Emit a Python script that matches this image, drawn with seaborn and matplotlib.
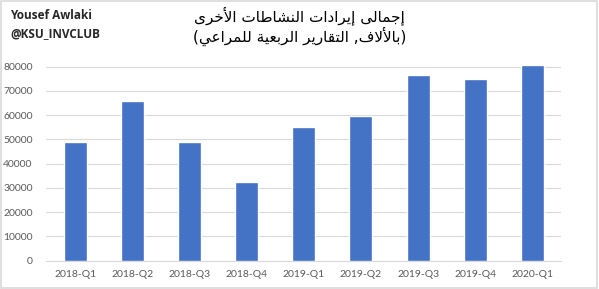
import matplotlib
matplotlib.use("Agg")
import matplotlib.pyplot as plt
import seaborn as sns
import pandas as pd
from matplotlib.patches import Rectangle

quarters = ["2018-Q1", "2018-Q2", "2018-Q3", "2018-Q4", "2019-Q1",
            "2019-Q2", "2019-Q3", "2019-Q4", "2020-Q1"]
revenues = [49000, 65700, 48800, 32600, 55300, 59800, 76600, 75000, 80700]
yticks = [0, 10000, 20000, 30000, 40000, 50000, 60000, 70000, 80000]
title_line1 = "إجمالى إيرادات النشاطات الأخرى"
title_line2 = "(بالألاف, التقارير الربعية للمراعي)"
author_line1 = "Yousef Awlaki"
author_line2 = "@KSU_INVCLUB"

# minimal Arabic shaping (isolated, final, initial, medial)
FORMS = {
    '\u0627': ('\uFE8D', '\uFE8E', None, None),
    '\u0623': ('\uFE83', '\uFE84', None, None),
    '\u0625': ('\uFE87', '\uFE88', None, None),
    '\u0622': ('\uFE81', '\uFE82', None, None),
    '\u0628': ('\uFE8F', '\uFE90', '\uFE91', '\uFE92'),
    '\u0629': ('\uFE93', '\uFE94', None, None),
    '\u062A': ('\uFE95', '\uFE96', '\uFE97', '\uFE98'),
    '\u062C': ('\uFE9D', '\uFE9E', '\uFE9F', '\uFEA0'),
    '\u062E': ('\uFEA5', '\uFEA6', '\uFEA7', '\uFEA8'),
    '\u062F': ('\uFEA9', '\uFEAA', None, None),
    '\u0631': ('\uFEAD', '\uFEAE', None, None),
    '\u0634': ('\uFEB5', '\uFEB6', '\uFEB7', '\uFEB8'),
    '\u0637': ('\uFEC1', '\uFEC2', '\uFEC3', '\uFEC4'),
    '\u0639': ('\uFEC9', '\uFECA', '\uFECB', '\uFECC'),
    '\u0641': ('\uFED1', '\uFED2', '\uFED3', '\uFED4'),
    '\u0642': ('\uFED5', '\uFED6', '\uFED7', '\uFED8'),
    '\u0644': ('\uFEDD', '\uFEDE', '\uFEDF', '\uFEE0'),
    '\u0645': ('\uFEE1', '\uFEE2', '\uFEE3', '\uFEE4'),
    '\u0646': ('\uFEE5', '\uFEE6', '\uFEE7', '\uFEE8'),
    '\u0649': ('\uFEEF', '\uFEF0', None, None),
    '\u064A': ('\uFEF1', '\uFEF2', '\uFEF3', '\uFEF4'),
}
LAM_ALEF = {'\u0627': ('\uFEFB', '\uFEFC'), '\u0623': ('\uFEF7', '\uFEF8'),
            '\u0625': ('\uFEF9', '\uFEFA'), '\u0622': ('\uFEF5', '\uFEF6')}


def shape_rtl(text):
    toks = []
    i = 0
    while i < len(text):
        c = text[i]
        if c == '\u0644' and i + 1 < len(text) and text[i + 1] in LAM_ALEF:
            toks.append(('LA', text[i + 1]))
            i += 2
        else:
            toks.append(('C', c))
            i += 1

    def is_ar(t):
        return t is not None and (t[0] == 'LA' or t[1] in FORMS)

    def joins_left(t):
        return t is not None and t[0] == 'C' and t[1] in FORMS and FORMS[t[1]][2] is not None

    out = []
    for k, t in enumerate(toks):
        prev = toks[k - 1] if k > 0 else None
        nxt = toks[k + 1] if k + 1 < len(toks) else None
        cp = joins_left(prev) and is_ar(t)
        if t[0] == 'LA':
            out.append(LAM_ALEF[t[1]][1 if cp else 0])
            continue
        f = FORMS.get(t[1])
        if f is None:
            out.append(t[1])
            continue
        cn = f[2] is not None and is_ar(nxt)
        if cp and cn:
            out.append(f[3])
        elif cp:
            out.append(f[1])
        elif cn:
            out.append(f[2])
        else:
            out.append(f[0])
    mirror = {'(': ')', ')': '('}
    return ''.join(mirror.get(ch, ch) for ch in reversed(''.join(out)))


sns.set_theme(style="white")
plt.rcParams['font.family'] = ['Lato', 'DejaVu Sans']

df = pd.DataFrame({"quarter": quarters, "revenue": revenues})

fig = plt.figure(figsize=(5.99, 2.89), dpi=100)
ax = fig.add_axes([0.0776, 0.098, 0.859, 0.688])
sns.barplot(data=df, x="quarter", y="revenue", color="#4472C4", width=0.4,
            saturation=1, ax=ax, zorder=3)
ax.set_ylim(0, 82000)
ax.set_yticks(yticks)
ax.set_yticklabels([str(v) for v in yticks])
ax.yaxis.grid(True, color="#d9d9d9", linewidth=0.8, zorder=0)
ax.set_axisbelow(True)
for s in ["top", "right", "left"]:
    ax.spines[s].set_visible(False)
ax.spines["bottom"].set_color("#d9d9d9")
ax.spines["bottom"].set_linewidth(0.8)
ax.set_xlabel("")
ax.set_ylabel("")
ax.tick_params(axis="both", length=0, labelsize=7.5, colors="#595959", pad=7)
ax.tick_params(axis="y", pad=10)

fig.text(0.5, 0.945, shape_rtl(title_line1), ha="center", va="center",
         fontsize=11, family=["DejaVu Sans"], color="black")
fig.text(0.5, 0.875, shape_rtl(title_line2), ha="center", va="center",
         fontsize=11, family=["DejaVu Sans"], color="black")
fig.text(0.017, 0.945, author_line1, ha="left", va="center", fontsize=8.5,
         fontweight="bold", family=["Open Sans", "DejaVu Sans"])
fig.text(0.017, 0.885, author_line2, ha="left", va="center", fontsize=8.5,
         fontweight="bold", family=["Open Sans", "DejaVu Sans"])

fig.patches.append(Rectangle((0.002, 0.004), 0.994, 0.992, transform=fig.transFigure,
                             fill=False, edgecolor="#d9d9d9", linewidth=1.2))

fig.savefig("out.png", dpi=100)
